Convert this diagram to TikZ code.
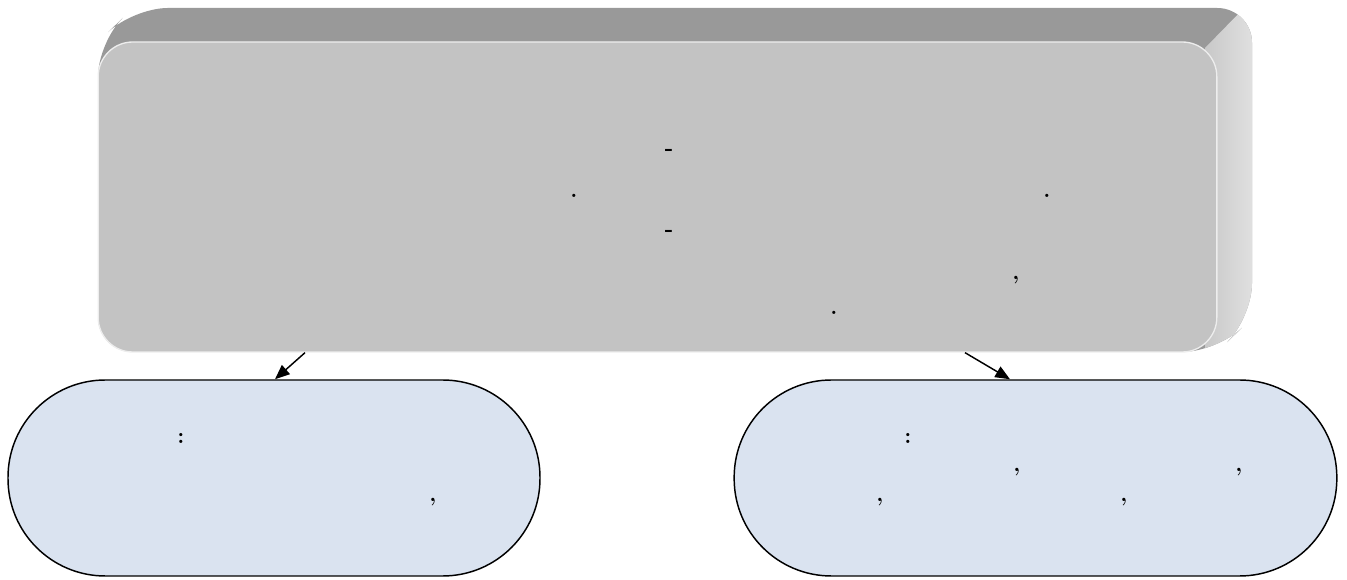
\documentclass[tikz,border=0pt]{standalone}
\usetikzlibrary{arrows.meta,calc}
\definecolor{topgray}{HTML}{999999}
\definecolor{frontgray}{HTML}{C3C3C3}
\definecolor{sidelight}{HTML}{E4E4E4}
\definecolor{sidedark}{HTML}{C8C8C8}
\definecolor{paleblue}{HTML}{DAE3F0}
\tikzset{
  frontbox/.style={draw=white!70!frontgray, line width=1pt, fill=frontgray, rounded corners=26pt,
    minimum width=839pt, minimum height=232.5pt, inner sep=0pt},
  stadium/.style={draw=black, line width=1.1pt, fill=paleblue, rounded corners=73pt,
    minimum height=147pt, inner sep=0pt},
  arr/.style={line width=1.1pt, -{Triangle[length=11pt,width=9pt]}},
  punct/.style={inner sep=0pt, font=\fontsize{17}{19}\selectfont\bfseries}
}
\begin{document}
\begin{tikzpicture}[x=0.75pt,y=-0.75pt]
\useasboundingbox (0,0) rectangle (1347,580);
% 3D extrusion
\fill[topgray, rounded corners=26pt] (98,352) -- (98,42) -- (133,8) -- (1252,8) -- (1252,318) -- (1217,352) -- cycle;
\begin{scope}
  \clip[rounded corners=26pt] (98,352) -- (98,42) -- (133,8) -- (1252,8) -- (1252,318) -- (1217,352) -- cycle;
  \shade[left color=sidedark, right color=sidelight] (1205,48) -- (1248,4) -- (1260,4) -- (1260,360) -- (1205,360) -- cycle;
\end{scope}
\node[frontbox] (front) at (657.5,197) {};
% punctuation in top box
\node[punct] (t1) at (669,152) {-};
\node[punct] (t2) at (574,196) {.};
\node[punct] (t3) at (1047,196) {.};
\node[punct] (t4) at (669,233) {-};
\node[punct] (t5) at (1016,280) {,};
\node[punct] (t6) at (834,313) {.};
% stadiums
\node[stadium, minimum width=399pt] (L) at (274,478) {};
\node[stadium, minimum width=452pt] (R) at (1035.5,478) {};
\node[punct] (l1) at (181,438) {:};
\node[punct] (l2) at (433,502) {,};
\node[punct] (r1) at (908,438) {:};
\node[punct] (r2) at (1017,472) {,};
\node[punct] (r3) at (1239,472) {,};
\node[punct] (r4) at (880,502) {,};
\node[punct] (r5) at (1124,502) {,};
% connectors
\draw[arr] (front.south -| 305,0) -- (L.north -| 275,0);
\draw[arr] (front.south -| 965,0) -- (R.north -| 1010,0);
\end{tikzpicture}
\end{document}
